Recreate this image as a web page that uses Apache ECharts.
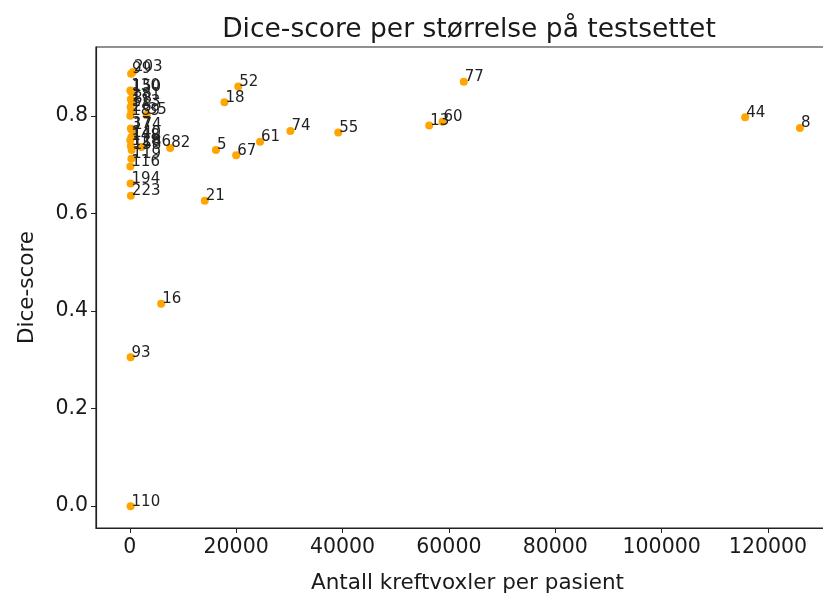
<!DOCTYPE html>
<html>
<head>
<meta charset="utf-8">
<script src="https://cdn.jsdelivr.net/npm/echarts@6/dist/echarts.min.js"></script>
<style>
  html, body { margin: 0; padding: 0; background: #fff; overflow: hidden; }
  #chart { width: 840px; height: 599px; }
</style>
</head>
<body>
<div id="chart"></div>
<script>
// Patient id, tumour voxel count and Dice score for each case in the test set
const patientIds = [
  '77', '52', '18', '74', '55', '61', '67', '5', '82', '13', '60', '44', '8',
  '16', '93', '110', '21',
  '99', '203', '150', '130', '181', '88', '113', '26', '189', '35',
  '37', '174', '140', '148', '128', '158', '186', '119', '116', '194', '223'
];
const voxelCounts = [
  62800, 20400, 17800, 30200, 39200, 24500, 20000, 16200, 7600, 56300, 58800, 115700, 126000,
  5900, 150, 150, 14100,
  250, 600, 300, 100, 200, 400, 150, 300, 100, 3200,
  200, 400, 300, 100, 200, 350, 2200, 300, 100, 150, 200
];
const diceScores = [
  0.870, 0.860, 0.828, 0.769, 0.766, 0.747, 0.719, 0.730, 0.734, 0.780, 0.788, 0.797, 0.775,
  0.415, 0.305, 0.000, 0.626,
  0.886, 0.890, 0.849, 0.852, 0.834, 0.826, 0.818, 0.809, 0.800, 0.802,
  0.774, 0.771, 0.756, 0.750, 0.738, 0.730, 0.736, 0.712, 0.696, 0.661, 0.636
];

const xTicks = [0, 20000, 40000, 60000, 80000, 100000, 120000];
const yTicks = [0.0, 0.2, 0.4, 0.6, 0.8];

const points = patientIds.map((id, i) => ({ value: [voxelCounts[i], diceScores[i]], name: id }));

const FONT = 'DejaVu Sans';
const chart = echarts.init(document.getElementById('chart'), null, { renderer: 'canvas' });

chart.setOption({
  animation: false,
  backgroundColor: '#fff',
  title: {
    text: 'Dice-score per størrelse på testsettet',
    left: 464,
    top: 12,
    textAlign: 'center',
    textStyle: { fontFamily: FONT, fontSize: 26.5, fontWeight: 'normal', color: '#1a1a1a' }
  },
  grid: {
    left: 96, top: 47, right: 1, bottom: 71,
    show: true, borderColor: '#222', borderWidth: 1.2, backgroundColor: 'transparent'
  },
  xAxis: {
    type: 'value',
    min: -6350, max: 133350,
    name: 'Antall kreftvoxler per pasient',
    nameLocation: 'middle',
    nameGap: 44,
    nameTextStyle: { fontFamily: FONT, fontSize: 21.5, color: '#1a1a1a' },
    splitLine: { show: false },
    axisLine: { show: true, onZero: false, lineStyle: { color: '#222', width: 1.2 } },
    axisTick: { show: true, inside: false, length: 5, customValues: xTicks, lineStyle: { color: '#222' } },
    axisLabel: {
      customValues: xTicks, margin: 9,
      fontFamily: FONT, fontSize: 20.5, color: '#1a1a1a',
      formatter: v => String(Math.round(v))
    }
  },
  yAxis: {
    type: 'value',
    min: -0.0448, max: 0.941,
    name: 'Dice-score',
    nameLocation: 'middle',
    nameGap: 58,
    nameTextStyle: { fontFamily: FONT, fontSize: 21.5, color: '#1a1a1a' },
    splitLine: { show: false },
    axisLine: { show: true, onZero: false, lineStyle: { color: '#222', width: 1.2 } },
    axisTick: { show: true, inside: false, length: 5, customValues: yTicks, lineStyle: { color: '#222' } },
    axisLabel: {
      customValues: yTicks, margin: 8,
      fontFamily: FONT, fontSize: 20.5, color: '#1a1a1a',
      formatter: v => v.toFixed(1)
    }
  },
  series: [{
    type: 'scatter',
    data: points,
    symbol: 'circle',
    symbolSize: 8,
    itemStyle: { color: '#ffa500', opacity: 1 },
    label: {
      show: true,
      position: [5, 7],
      align: 'left',
      verticalAlign: 'bottom',
      formatter: p => p.name,
      fontFamily: FONT,
      fontSize: 15,
      color: '#222'
    },
    emphasis: { disabled: true }
  }]
});
</script>
</body>
</html>
